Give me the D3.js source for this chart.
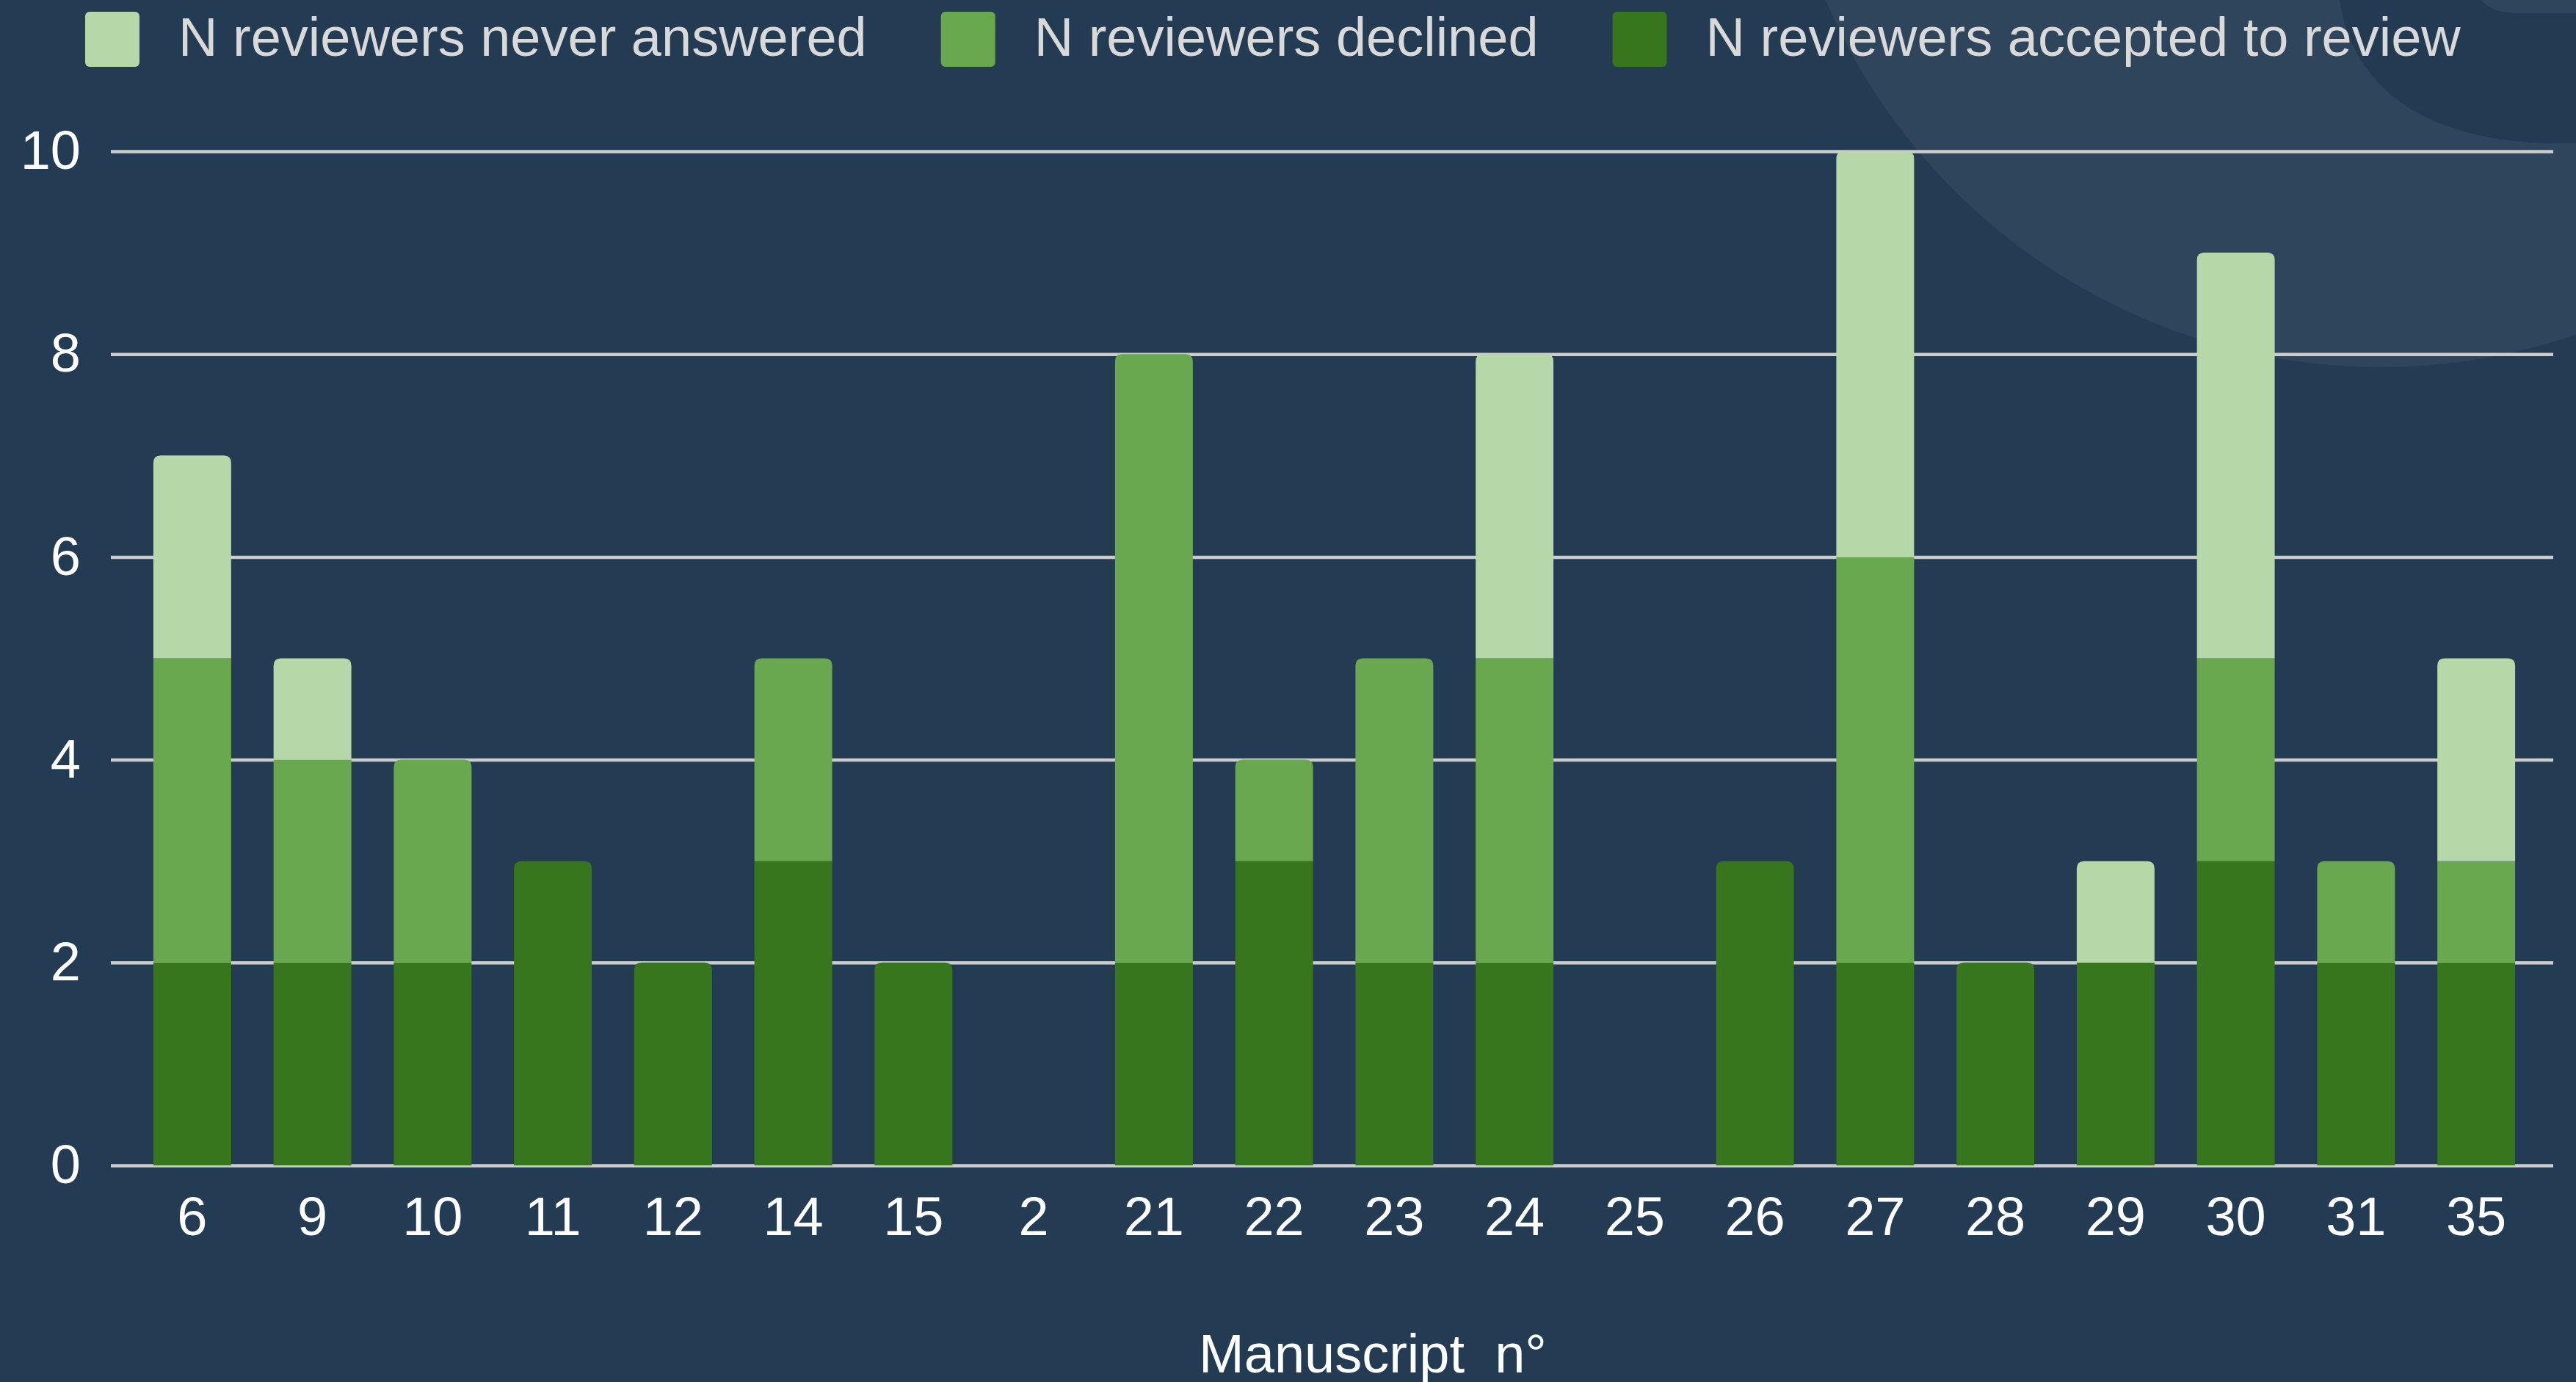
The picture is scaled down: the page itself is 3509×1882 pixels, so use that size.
<!DOCTYPE html>
<html>
<head>
<meta charset="utf-8">
<script src="https://cdn.jsdelivr.net/npm/d3@7"></script>
<style>
	body { margin: 0; background: #233B53; }
	svg { display: block; font-family: "Liberation Sans", Arial, sans-serif; }
</style>
</head>
<body>
<div id="chart"></div>
<script>

// Manuscripts on the x axis (in the order of the sheet)
var manuscripts = ['6', '9', '10', '11', '12', '14', '15', '2', '21', '22', '23', '24', '25', '26', '27', '28', '29', '30', '31', '35'];

// Reviewers per manuscript
var accepted      = [2, 2, 2, 3, 2, 3, 2, 0, 2, 3, 2, 2, 0, 3, 2, 2, 2, 3, 2, 2];
var declined      = [3, 2, 2, 0, 0, 2, 0, 0, 6, 1, 3, 3, 0, 0, 4, 0, 0, 2, 1, 1];
var neverAnswered = [2, 1, 0, 0, 0, 0, 0, 0, 0, 0, 0, 3, 0, 0, 4, 0, 1, 4, 0, 2];

var seriesKeys   = ['accepted', 'declined', 'never'];
var seriesLabels = {
	never: 'N reviewers never answered',
	declined: 'N reviewers declined',
	accepted: 'N reviewers accepted to review'
};
var legendOrder = ['never', 'declined', 'accepted'];
var yTicks = [0, 2, 4, 6, 8, 10];
var xTitle = 'Manuscript  n°';

var colors = { accepted: '#38761D', declined: '#6AA84F', never: '#B6D7A8' };

var width = 3509, height = 1882;

var svg = d3.select('#chart')
	.append('svg')
	.attr('width', width)
	.attr('height', height);

// Background + the round shapes in the top right corner
svg.append('rect')
	.attr('width', width).attr('height', height)
	.attr('fill', '#233B53');

var deco = svg.append('g');
deco.append('circle')
	.attr('cx', 3243).attr('cy', -322).attr('r', 822)
	.attr('fill', '#2E455C');
deco.append('path')
	.attr('d', 'M3187,0 C3203,110 3290,190 3470,195 L3509,195 L3509,0 Z')
	.attr('fill', '#223A52');
deco.append('path')
	.attr('d', 'M3380,0 C3390,12 3405,18 3432,18 L3509,18 L3509,0 Z')
	.attr('fill', '#2E455C');

// Stack the series
var table = manuscripts.map(function(m, i) {
	return { name: m, accepted: accepted[i], declined: declined[i], never: neverAnswered[i] };
});
var stacked = d3.stack().keys(seriesKeys)(table);

// Get Scale
var x = d3.scaleBand()
	.domain(manuscripts)
	.range([180, 3455])
	.paddingInner(0.353)
	.paddingOuter(0.1765);

var y = d3.scaleLinear()
	.domain([0, 10])
	.range([1587, 206]);

// Grid lines
var yAxis = d3.axisLeft(y)
	.tickValues(yTicks)
	.tickSize(-(3478 - 151))
	.tickPadding(41);

var gy = svg.append('g')
	.attr('transform', 'translate(151,0)')
	.call(yAxis);
gy.select('.domain').remove();
gy.selectAll('.tick line')
	.attr('stroke', '#CCCCCC')
	.attr('stroke-width', 4.5);
gy.selectAll('.tick text')
	.attr('fill', '#FFFFFF')
	.attr('font-size', 74)
	.attr('font-family', '"Liberation Sans", Arial, sans-serif');

// top segment of each column gets rounded corners
var topKey = table.map(function(d) {
	var k = null;
	seriesKeys.forEach(function(key) { if (d[key] > 0) k = key; });
	return k;
});

function roundedTop(x0, y0, w, h, r) {
	r = Math.min(r, h, w / 2);
	return 'M' + x0 + ',' + (y0 + h) +
		'V' + (y0 + r) +
		'Q' + x0 + ',' + y0 + ' ' + (x0 + r) + ',' + y0 +
		'H' + (x0 + w - r) +
		'Q' + (x0 + w) + ',' + y0 + ' ' + (x0 + w) + ',' + (y0 + r) +
		'V' + (y0 + h) + 'Z';
}

var g = svg.append('g');
g.selectAll('g')
	.data(stacked)
	.enter()
	.append('g')
	.attr('fill', function(s) { return colors[s.key]; })
	.each(function(s) {
		d3.select(this).selectAll('path')
			.data(s.filter(function(d) { return d[1] > d[0]; }))
			.enter()
			.append('path')
			.attr('d', function(d) {
				var i = manuscripts.indexOf(d.data.name);
				var r = topKey[i] === s.key ? 10 : 0;
				return roundedTop(x(d.data.name), y(d[1]), x.bandwidth(), y(d[0]) - y(d[1]), r);
			});
	});

// X axis labels
var xAxis = d3.axisBottom(x).tickSize(0).tickPadding(42);
var gx = svg.append('g')
	.attr('transform', 'translate(0,1587)')
	.call(xAxis);
gx.select('.domain').remove();
gx.selectAll('.tick text')
	.attr('fill', '#FFFFFF')
	.attr('font-size', 74)
	.attr('font-family', '"Liberation Sans", Arial, sans-serif');

// X title (sits on the bottom edge like in the sheet export)
svg.append('text')
	.attr('x', 1870)
	.attr('y', 1869)
	.attr('text-anchor', 'middle')
	.attr('fill', '#FFFFFF')
	.attr('font-size', 74)
	.style('white-space', 'pre')
	.text(xTitle);

// Legend
var legend = svg.append('g');
var lx = 116;
legendOrder.forEach(function(key) {
	legend.append('rect')
		.attr('x', lx).attr('y', 16)
		.attr('width', 74).attr('height', 75)
		.attr('rx', 6).attr('ry', 6)
		.attr('fill', colors[key]);
	var t = legend.append('text')
		.attr('x', lx + 127)
		.attr('y', 76)
		.attr('fill', '#D9D9D9')
		.attr('font-size', 74)
		.text(seriesLabels[key]);
	lx = lx + 127 + t.node().getComputedTextLength() + 101;
});

</script>
</body>
</html>
